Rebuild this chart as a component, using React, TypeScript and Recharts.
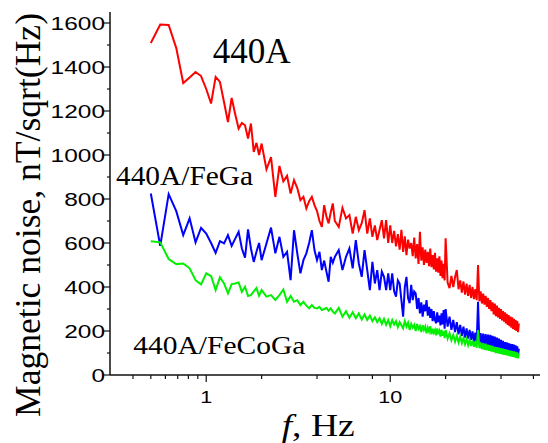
import React from 'react';
import { LineChart, Line, XAxis, YAxis, Customized } from 'recharts';

// frequency grid, Hz
const freqs = [
  0.5, 0.5625, 0.625, 0.6875, 0.75, 0.8125, 0.875, 0.9375, 1, 1.0625, 1.125, 1.1875,
  1.25, 1.3125, 1.375, 1.4375, 1.5, 1.5625, 1.625, 1.6875, 1.75, 1.8125, 1.875, 1.9375,
  2, 2.125, 2.25, 2.375, 2.5, 2.625, 2.75, 2.875, 3, 3.125, 3.25, 3.375,
  3.5, 3.625, 3.75, 3.875, 4, 4.125, 4.25, 4.375, 4.5, 4.625, 4.75, 4.875,
  5, 5.25, 5.5, 5.75, 6, 6.25, 6.5, 6.75, 7, 7.25, 7.5, 7.75, 8, 8.25, 8.5, 8.75, 9, 9.25, 9.5, 9.75,
  10, 10.25, 10.5, 10.75, 11, 11.25, 11.5, 11.75, 12, 12.25, 12.5, 12.75, 13, 13.25, 13.5, 13.75,
  14, 14.25, 14.5, 14.75, 15, 15.25, 15.5, 15.75, 16, 16.25, 16.5, 16.75, 17, 17.25, 17.5, 17.75,
  18, 18.25, 18.5, 18.75, 19, 19.25, 19.5, 19.75,
  20, 20.5, 21, 21.5, 22, 22.5, 23, 23.5, 24, 24.5, 25, 25.5, 26, 26.5, 27, 27.5, 28, 28.5, 29, 29.5,
  30, 30.5, 31, 31.5, 32, 32.5, 33, 33.5, 34, 34.5, 35, 35.5, 36, 36.5, 37, 37.5, 38, 38.5, 39, 39.5,
  40, 40.5, 41, 41.5, 42, 42.5, 43, 43.5, 44, 44.5, 45, 45.5, 46, 46.5, 47, 47.5, 48, 48.5, 49, 49.5,
  50,
];

// nT/sqrt(Hz)
const noise440A = [
  1509, 1593, 1591, 1486, 1327, 1352, 1377, 1359, 1300, 1234, 1355, 1332,
  1240, 1150, 1259, 1185, 1120, 1146, 1135, 1075, 1143, 1014, 1055, 1000,
  1052, 935, 990, 810, 950, 880, 905, 825, 886, 850, 795, 810,
  757, 790, 810, 772, 745, 700, 673, 772, 720, 689, 740, 780,
  700, 673, 760, 712, 727, 643, 719, 658, 690, 749, 643, 712, 628, 680, 613, 660, 704, 621, 704, 600,
  680, 600, 655, 585, 640, 570, 660, 560, 630, 545, 615, 575, 600, 540, 625, 530,
  595, 505, 651, 520, 580, 500, 570, 510, 560, 495, 575, 490, 545, 480, 555, 470,
  530, 465, 540, 450, 520, 440, 505, 430,
  621, 420, 395, 450, 400, 445, 477, 390, 430, 375, 425, 365, 415, 360, 410, 350, 400, 345, 390, 340,
  500, 335, 380, 325, 370, 320, 360, 310, 350, 300, 340, 290, 330, 275, 325, 268, 315, 262, 305, 255,
  300, 248, 290, 242, 285, 235, 278, 228, 272, 222, 265, 215, 262, 210, 255, 205, 250, 200, 245, 195,
  235,
];

const noiseFeGa = [
  825, 587, 822, 745, 636, 712, 603, 669, 643, 600, 555, 608,
  598, 636, 587, 620, 651, 575, 533, 662, 575, 514, 560, 600,
  522, 598, 670, 553, 628, 537, 560, 431, 658, 553, 462, 522,
  553, 600, 658, 568, 522, 560, 477, 520, 470, 424, 537, 510,
  537, 568, 477, 537, 575, 485, 613, 507, 446, 568, 477, 386, 514, 416, 477, 386, 470, 446, 386, 462,
  386, 462, 380, 356, 430, 416, 340, 265, 400, 446, 350, 326, 410, 340, 380, 371,
  300, 350, 280, 330, 265, 320, 290, 340, 270, 310, 260, 300, 245, 290, 250, 235,
  285, 240, 270, 225, 280, 230, 295, 210,
  300, 220, 265, 205, 250, 195, 240, 185, 228, 178, 220, 170, 212, 165, 205, 160, 198, 152, 192, 148,
  333, 145, 190, 140, 188, 135, 186, 132, 184, 130, 182, 128, 178, 126, 175, 122, 170, 120, 165, 118,
  160, 115, 155, 112, 150, 110, 148, 105, 145, 102, 142, 100, 140, 98, 138, 95, 135, 93, 130, 90,
  120,
];

const noiseFeCoGa = [
  608, 603, 527, 504, 507, 485, 431, 412, 462, 450, 386, 444,
  416, 371, 413, 416, 421, 378, 401, 359, 363, 380, 395, 360,
  386, 356, 363, 341, 363, 389, 333, 359, 333, 340, 318, 333,
  315, 303, 318, 305, 303, 310, 295, 300, 305, 292, 303, 288,
  280, 305, 265, 290, 260, 285, 258, 280, 252, 275, 250, 270, 245, 262, 240, 258, 232, 255, 228, 250,
  222, 250, 230, 245, 218, 240, 226, 212, 245, 220, 238, 205, 232, 215, 228, 200,
  232, 210, 222, 195, 226, 205, 220, 190, 215, 198, 222, 185, 210, 192, 205, 180,
  212, 185, 200, 175, 205, 178, 198, 168,
  205, 165, 190, 158, 182, 152, 178, 148, 174, 145, 168, 140, 164, 136, 160, 132, 156, 128, 152, 124,
  204, 122, 148, 118, 145, 115, 142, 112, 138, 110, 135, 106, 132, 104, 128, 100, 126, 98, 124, 96,
  122, 94, 120, 92, 118, 90, 115, 88, 113, 86, 111, 84, 109, 82, 107, 80, 105, 78, 103, 76,
  98,
];

const xTicks = [0.4, 0.5, 0.6, 0.7, 0.8, 0.9, 1, 2, 4, 6, 8, 10, 20, 40, 60];
const xLabelled = [1, 10];
const yTicks = [0, 100, 200, 300, 400, 500, 600, 700, 800, 900, 1000, 1100, 1200, 1300, 1400, 1500, 1600];

const data = freqs.map((f, i) => ({
  f,
  a: noise440A[i],
  feGa: noiseFeGa[i],
  feCoGa: noiseFeCoGa[i],
}));

const AXIS = '#111';
const sans = '"Liberation Sans", Arial, sans-serif';
const serif = '"Liberation Serif", "Times New Roman", serif';

const BottomTick = (props: any) => {
  const { x, y, payload } = props;
  const major = xLabelled.includes(payload.value);
  const label = String(payload.value);
  return (
    <g>
      <line x1={x} x2={x} y1={y} y2={y + (major ? 7 : 4)} stroke={AXIS} strokeWidth={1.2} />
      {major && (
        <text x={x} y={y + 28} textAnchor="middle" fontFamily={sans} fontSize={16.5} fill="#000"
          textLength={label.length * 12} lengthAdjust="spacingAndGlyphs">
          {label}
        </text>
      )}
    </g>
  );
};

const TopTick = (props: any) => {
  const { x, y, payload } = props;
  const major = xLabelled.includes(payload.value);
  return <line x1={x} x2={x} y1={y} y2={y + (major ? 6 : 3)} stroke={AXIS} strokeWidth={1.2} />;
};

const LeftTick = (props: any) => {
  const { x, y, payload } = props;
  const major = payload.value % 200 === 0;
  const label = String(payload.value);
  return (
    <g>
      <line x1={x - (major ? 6 : 3)} x2={x} y1={y} y2={y} stroke={AXIS} strokeWidth={1.2} />
      {major && (
        <text x={x - 5} y={y + 6.5} textAnchor="end" fontFamily={sans} fontSize={18.5} fill="#000"
          textLength={label.length * 13.6} lengthAdjust="spacingAndGlyphs">
          {label}
        </text>
      )}
    </g>
  );
};

const Annotations = () => (
  <g fontFamily={serif} fill="#000">
    <text x={204.7} y={55.3} fontSize={35} textLength={78} lengthAdjust="spacingAndGlyphs">440A</text>
    <text x={108} y={177} fontSize={27} textLength={137} lengthAdjust="spacingAndGlyphs">440A/FeGa</text>
    <text x={125.3} y={346} fontSize={26} textLength={172} lengthAdjust="spacingAndGlyphs">440A/FeCoGa</text>
    <text x={273.7} y={428} fontSize={32} textLength={73} lengthAdjust="spacingAndGlyphs">
      <tspan fontStyle="italic">f</tspan>, Hz
    </text>
    <text transform="translate(32,207) rotate(-90)" textAnchor="middle" fontSize={35.5}
      textLength={404} lengthAdjust="spacingAndGlyphs">
      Magnetic noise, nT/sqrt(Hz)
    </text>
  </g>
);

export default function App() {
  return (
    <LineChart width={540} height={435} data={data} margin={{ top: 4, right: 0, bottom: 0, left: 0 }}>
      <XAxis dataKey="f" type="number" scale="log" domain={[0.3, 72]} allowDataOverflow
        ticks={xTicks} interval={0} height={68} tickSize={0} tickMargin={0} tickLine={false}
        axisLine={{ stroke: AXIS, strokeWidth: 1.5 }} tick={<BottomTick />} />
      <XAxis xAxisId="top" dataKey="f" orientation="top" type="number" scale="log" domain={[0.3, 72]}
        allowDataOverflow ticks={xTicks} interval={0} height={0} tickSize={0} tickMargin={0}
        tickLine={false} axisLine={{ stroke: AXIS, strokeWidth: 1.5 }} tick={<TopTick />} />
      <YAxis type="number" domain={[0, 1650]} allowDataOverflow ticks={yTicks} interval={0} width={102}
        tickSize={0} tickMargin={0} tickLine={false} axisLine={{ stroke: AXIS, strokeWidth: 1.5 }}
        tick={<LeftTick />} />
      <Line dataKey="a" stroke="#ff0000" strokeWidth={2} dot={false} isAnimationActive={false} />
      <Line dataKey="feGa" stroke="#0000ff" strokeWidth={2} dot={false} isAnimationActive={false} />
      <Line dataKey="feCoGa" stroke="#00f000" strokeWidth={2} dot={false} isAnimationActive={false} />
      <Customized component={Annotations} />
    </LineChart>
  );
}
